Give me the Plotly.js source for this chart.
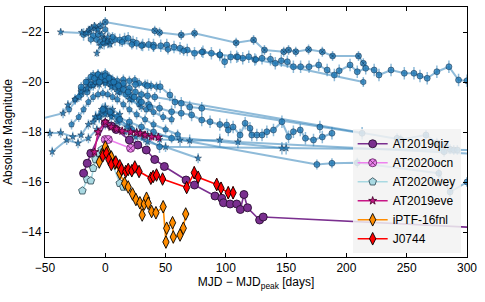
<!DOCTYPE html>
<html><head><meta charset="utf-8">
<script src="https://cdn.plot.ly/plotly-3.0.1.min.js"></script>
<style>html,body{margin:0;padding:0;background:#fff}#plot{width:485px;height:302px}</style>
</head><body><div id="plot"></div>
<script>
// ---------- comparison sample (blue) ----------
const T1_day = [-8, -4, 0, 41, 45, 63, 74, 108.5, 123, 132, 148, 152, 158, 168.6, 180, 188.5, 210, 214];
const T1_mag = [-22.15, -22.25, -22.4, -22.05, -21.98, -21.88, -21.95, -21.57, -21.68, -21.28, -21.21, -21.28, -21.21, -21.3, -21.21, -21.04, -21.04, -20.75];
const T2_day = [-18,-14,-10,-7,-4,-1,2,5,8,12,16,19,23,26,31,36,40,46,51,57,62,68,74,81,88,95,99,104,109,114,119,124,130,137,141,146,151,156,162,169,177,184,190,194,203,209,216,223,227,237,248,256,261,267,275,285,293,300];
const T2_mag = [-21.9,-22.0,-21.85,-21.7,-21.6,-21.55,-21.6,-21.65,-21.7,-21.68,-21.72,-21.75,-21.6,-21.55,-21.48,-21.5,-21.48,-21.45,-21.48,-21.4,-21.35,-21.28,-21.15,-21.21,-21.15,-21.08,-20.81,-21.0,-21.01,-20.95,-21.01,-20.9,-20.95,-20.91,-20.75,-20.85,-20.81,-20.61,-20.61,-20.61,-20.68,-20.48,-20.28,-20.45,-20.68,-20.41,-20.55,-20.48,-20.28,-20.48,-20.35,-20.35,-20.24,-20.15,-20.41,-20.61,-20.08,-20.05];
const T3_day = [-12, -6, 0, 6, 14, 22, 30, 40, 52, 65, 80, 95, 110, 125, 214];
const T3_mag = [-21.7, -21.9, -22.1, -21.8, -21.6, -21.5, -21.45, -21.4, -21.3, -21.25, -21.2, -21.1, -21.0, -20.9, -20.0];
const T4_day = [-37, -19.5, -15.6, -13, -11.5, -9, -6, -3, -1, 1, 4];
const T4_mag = [-22.0, -21.98, -21.95, -22.1, -22.15, -22.25, -22.1, -21.9, -21.75, -21.6, -21.5];
const T5_day = [-7, -4, -1, 2];
const T5_mag = [-21.15, -21.45, -21.7, -21.8];
const M1_day = [-25, -20, -15, -10, -6, -3, 0, 3, 6, 10, 15, 20, 24.5, 28, 33, 38, 42.5];
const M1_mag = [-19.3, -19.7, -20.0, -20.28, -20.3, -20.25, -20.35, -20.2, -20.1, -20.05, -20.1, -20.05, -20.08, -19.95, -19.9, -19.85, -19.81];
const M2_day = [-15, -10, -5, 0, 5, 10, 15, 20, 25, 30, 35, 41, 242, 245, 266, 275, 281, 282, 286, 289, 292];
const M2_mag = [-19.6, -19.9, -20.1, -20.2, -20.0, -19.9, -19.85, -19.75, -19.6, -19.5, -19.45, -19.4, -17.75, -17.7, -17.88, -17.57, -17.21, -17.48, -17.31, -17.28, -17.28];
const M3_day = [-20,-12,-6,0,6,12,20,28,36,45,55,63,71.6,80,86.9,95,100.7,102,106,111.8,116,120,121.5,125.7,130,134,139.5,146.5,152,156,161.7,166,172.7,180,188];
const M3_mag = [-19.5,-19.9,-20.1,-20.0,-19.9,-19.7,-19.5,-19.3,-19.1,-18.95,-18.81,-18.75,-18.68,-18.48,-18.41,-18.3,-18.28,-18.08,-18.2,-17.88,-18.35,-18.15,-17.88,-17.88,-17.88,-18.01,-18.08,-18.41,-17.81,-18.01,-18.08,-17.75,-17.68,-17.8,-17.95];
const M4_day = [-30, -22, -16, -12, -8, -4, 0, 4, 8, 12, 17, 22, 28, 34, 40, 48, 55];
const M4_mag = [-18.9, -19.4, -19.7, -19.9, -20.0, -20.1, -20.05, -19.9, -19.8, -19.6, -19.5, -19.3, -19.1, -18.9, -18.8, -18.6, -18.5];
const M5_day = [-60, -35, -31, -25, -20, -15, -10, -5, 0, 5, 10, 20, 30];
const M5_mag = [-18.45, -18.75, -19.08, -19.3, -19.6, -19.75, -19.85, -19.9, -19.95, -19.8, -19.6, -19.3, -19.0];
const M6_day = [-46, -37, -27, -20, -14, -8, -3, 0, 6, 12];
const M6_mag = [-17.95, -17.97, -17.81, -17.88, -18.3, -18.6, -18.9, -19.0, -18.9, -18.7];
const M7_day = [-44, -32, -22.6, -14, -7, 0, 8, 16, 25, 35, 50, 77];
const M7_mag = [-17.21, -17.68, -17.55, -17.75, -18.1, -18.3, -18.2, -18.0, -17.8, -17.6, -17.4, -16.95];
const M8_day = [-5, 0, 5, 10, 20, 30, 40, 55, 175.5, 188, 209, 276.6, 286, 300];
const M8_mag = [-18.6, -18.8, -18.7, -18.6, -18.4, -18.2, -18.0, -17.75, -16.7, -16.75, -16.77, -16.35, -15.6, -16.0];
const M9_day = [-5, 0, 5, 15, 25, 35, 45.5, 53.6, 57.8, 63, 70, 80, 178, 213];
const M9_mag = [-20.0, -20.1, -20.0, -19.95, -19.9, -19.85, -19.81, -19.48, -19.2, -19.15, -19.0, -18.95, -18.2, -17.95];
const M10_day = [-20, -16, -12, -9, -6, -3, 0, 3, 7, 11, 15, 19, 24, 30, 37];
const M10_mag = [-19.8, -20.0, -20.2, -20.15, -20.3, -20.2, -20.25, -20.15, -20.0, -19.85, -19.7, -19.6, -19.4, -19.2, -19.0];
const M11_day = [-28, -22, -18, -14, -10, -6, -2, 2, 6, 10, 15, 20, 26, 33, 40, 50, 60];
const M11_mag = [-18.3, -18.6, -18.9, -19.2, -19.4, -19.5, -19.55, -19.5, -19.4, -19.3, -19.1, -18.9, -18.7, -18.5, -18.3, -18.1, -17.9];
const F1_day = [-8, -3, 0, 5, 12, 20, 30, 45, 62, 70, 95, 110, 305];
const F1_mag = [-18.6, -18.8, -18.9, -18.75, -18.5, -18.2, -17.9, -17.7, -17.68, -17.65, -17.68, -17.6, -17.13];
const F2_day = [-10, -5, 0, 5, 10, 18, 26, 35, 146.5, 150];
const F2_mag = [-18.4, -18.6, -18.7, -18.6, -18.4, -18.2, -18.0, -17.9, -17.35, -17.35];
const F3_day = [-2, 4, 12, 22, 32, 45, 310];
const F3_mag = [-18.9, -18.8, -18.5, -18.1, -17.8, -17.41, -17.27];
const blueErr = [0.2, 0.25, 0.2, 0.15, 0.15, 0.2, 0.2, 0.25, 0.2, 0.2, 0.2, 0.2, 0.2, 0.25, 0.2, 0.2, 0.25, 0.25, 0.25];

// ---------- highlighted events ----------
const qiz_day = [-18, -15, -12, 0, 5, 9, 20, 27, 34, 41, 49, 67, 74, 91, 96.6, 98, 103.5, 109, 112, 115, 118, 128, 131, 340];
const qiz_mag = [-16.35, -16.75, -17.15, -18.35, -18.24, -18.1, -17.68, -17.48, -17.28, -16.9, -16.62, -16.08, -15.88, -15.44, -15.35, -15.17, -15.12, -15.12, -14.9, -15.5, -14.97, -14.48, -14.6, -14.1];
const qiz_err = [0.08, 0.08, 0.08, 0.05, 0.05, 0.05, 0.05, 0.05, 0.05, 0.05, 0.05, 0.05, 0.05, 0.08, 0.08, 0.08, 0.08, 0.08, 0.1, 0.1, 0.1, 0.1, 0.1, 0.1];
const ocn_day = [0, 2.5, 21];
const ocn_mag = [-17.7, -17.7, -17.35];
const ocn_err = [0.05, 0.05, 0.05];
const wey_day = [-19, -15, -12, -10, -8, -5, -3, -1, 1, 3, 12, 15];
const wey_mag = [-15.65, -16.1, -16.05, -16.55, -16.9, -17.15, -17.3, -17.25, -17.2, -17.1, -15.95, -15.8];
const wey_err = [0.08, 0.08, 0.08, 0.08, 0.08, 0.08, 0.08, 0.08, 0.08, 0.08, 0.08, 0.08];
const eve_day = [-9, -6, 0, 5, 9.3, 14, 21, 26, 29, 33, 38.4, 44];
const eve_mag = [-17.2, -18.0, -18.4, -18.2, -18.12, -18.04, -18.0, -17.97, -17.95, -17.88, -17.81, -17.79];
const eve_err = [0.15, 0.15, 0.1, 0.1, 0.1, 0.12, 0.12, 0.12, 0.15, 0.15, 0.15, 0.15];
const fnl_day = [-5, -2, 0, 2, 5, 8, 12, 16, 19, 22.6, 25.4, 28.7, 30.6, 32.3, 34.2, 35.6, 38.4, 42, 48, 50.3, 50.9, 55.8, 56.4, 62, 64.7, 66.7];
const fnl_mag = [-16.8, -17.15, -17.4, -17.2, -17.0, -16.75, -16.35, -15.95, -15.8, -15.52, -15.3, -15.17, -14.68, -15.12, -15.35, -15.15, -14.82, -14.77, -15.01, -13.6, -14.15, -14.37, -13.8, -13.88, -14.15, -14.72];
const fnl_err = [0.1, 0.1, 0.1, 0.1, 0.1, 0.1, 0.1, 0.1, 0.1, 0.1, 0.1, 0.1, 0.15, 0.15, 0.15, 0.15, 0.15, 0.15, 0.2, 0.25, 0.2, 0.2, 0.25, 0.2, 0.2, 0.2];
const j07_day = [-2, 1, 3, 5, 8.7, 12, 13.5, 17, 19, 22, 24.5, 28, 37.8, 39.7, 42.5, 47.5, 67.5, 73.8, 77, 92.4, 96, 102, 106];
const j07_mag = [-17.05, -17.15, -16.9, -16.7, -16.8, -16.65, -16.5, -16.42, -16.5, -16.45, -16.6, -16.42, -16.15, -16.22, -16.28, -16.12, -15.78, -16.37, -16.19, -15.9, -15.75, -15.57, -15.57];
const j07_err = [0.15, 0.15, 0.15, 0.15, 0.15, 0.15, 0.15, 0.15, 0.15, 0.2, 0.2, 0.2, 0.2, 0.2, 0.2, 0.2, 0.2, 0.25, 0.2, 0.25, 0.25, 0.25, 0.25];

const BLUE_LINE = 'rgba(31,119,180,0.5)';
const BLUE_FACE = 'rgba(31,119,180,0.78)';
const BLUE_EDGE = 'rgba(15,45,75,0.85)';

const blueSets = [
  [T1_day, T1_mag, 'circle-x'], [T2_day, T2_mag, 'circle'], [T3_day, T3_mag, 'hexagon'],
  [T4_day, T4_mag, 'star'], [T5_day, T5_mag, 'star'], [M1_day, M1_mag, 'hexagon'],
  [M2_day, M2_mag, 'circle'], [M3_day, M3_mag, 'circle'], [M4_day, M4_mag, 'pentagon'],
  [M5_day, M5_mag, 'star'], [M6_day, M6_mag, 'star'], [M7_day, M7_mag, 'star'],
  [M8_day, M8_mag, 'circle'], [M9_day, M9_mag, 'circle'], [M10_day, M10_mag, 'circle'],
  [M11_day, M11_mag, 'pentagon'], [F1_day, F1_mag, 'star'], [F2_day, F2_mag, 'star'],
  [F3_day, F3_mag, 'circle']
];

const traces = [];
blueSets.forEach((s, i) => {
  const isStar = s[2] === 'star';
  traces.push({
    x: s[0], y: s[1], type: 'scatter', mode: 'lines+markers', showlegend: false,
    line: {color: BLUE_LINE, width: 2},
    marker: {symbol: s[2], size: isStar ? 5 : 6, color: BLUE_FACE, line: {color: BLUE_EDGE, width: 0.6}},
    error_y: {type: 'constant', value: blueErr[i], color: BLUE_LINE, thickness: 1.5, width: 0},
    hoverinfo: 'skip'
  });
});

function ev(name, x, y, err, color, symbol, size, edge) {
  return {
    x: x, y: y, name: name, type: 'scatter', mode: 'lines+markers',
    line: {color: color, width: 1.6},
    marker: {symbol: symbol, size: size, color: color, line: {color: edge, width: 0.9}},
    error_y: {type: 'data', array: err, color: color, thickness: 1.3, width: 0}
  };
}
traces.push(ev('AT2019qiz', qiz_day, qiz_mag, qiz_err, '#7a2f8f', 'circle', 8, '#2a0f33'));
traces.push(ev('AT2020ocn', ocn_day, ocn_mag, ocn_err, '#ee82ee', 'circle-x', 8, '#6a2a6a'));
traces.push(ev('AT2020wey', wey_day, wey_mag, wey_err, '#a9d9e2', 'pentagon', 8, '#3a5560'));
traces.push(ev('AT2019eve', eve_day, eve_mag, eve_err, '#c71585', 'star', 6, '#4a0830'));
traces.push(ev('iPTF-16fnl', fnl_day, fnl_mag, fnl_err, '#ff8c00', 'diamond-tall', 9, '#000000'));
traces.push(ev('J0744', j07_day, j07_mag, j07_err, '#ff0000', 'diamond-tall', 9, '#000000'));

const FONT = 'Liberation Sans, Arial, Helvetica, sans-serif';
const layout = {
  width: 485, height: 302,
  margin: {l: 45, r: 18, t: 7, b: 45},
  paper_bgcolor: '#fff', plot_bgcolor: '#fff',
  font: {family: FONT, size: 12, color: '#000'},
  showlegend: true,
  legend: {x: 0.985, y: 0.015, xanchor: 'right', yanchor: 'bottom',
           bgcolor: 'rgba(242,242,242,0.85)', borderwidth: 0,
           font: {family: FONT, size: 12, color: '#000'}, tracegroupgap: 0},
  xaxis: {range: [-50, 300], tickvals: [-50, 0, 50, 100, 150, 200, 250, 300],
          ticks: 'inside', ticklen: 4, tickwidth: 1, tickcolor: '#000',
          showline: true, linecolor: '#000', linewidth: 1, mirror: 'ticks',
          showgrid: false, zeroline: false,
          tickfont: {size: 12},
          title: {text: 'MJD − MJD<sub>peak</sub> [days]', font: {size: 12}, standoff: 2}},
  yaxis: {range: [-13, -23], tickvals: [-22, -20, -18, -16, -14],
          ticks: 'inside', ticklen: 4, tickwidth: 1, tickcolor: '#000',
          showline: true, linecolor: '#000', linewidth: 1, mirror: 'ticks',
          showgrid: false, zeroline: false,
          tickfont: {size: 12},
          title: {text: 'Absolute Magnitude', font: {size: 12}, standoff: 6}}
};
Plotly.newPlot('plot', traces, layout, {staticPlot: true, displayModeBar: false});
</script></body></html>
